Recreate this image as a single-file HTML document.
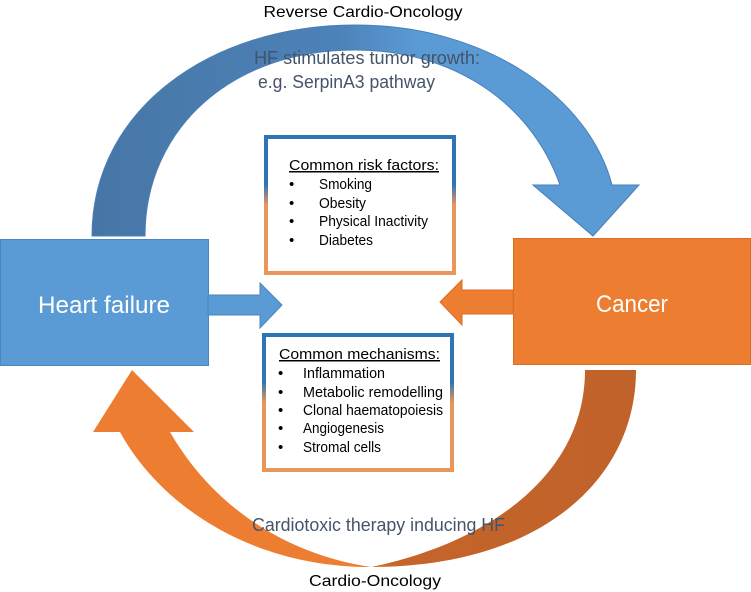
<!DOCTYPE html>
<html><head><meta charset="utf-8"><style>
html,body{margin:0;padding:0;background:#fff;}
svg{display:block;font-family:"Liberation Sans",sans-serif;}
</style></head><body>
<svg width="751" height="592" viewBox="0 0 751 592" xmlns="http://www.w3.org/2000/svg">
<defs>
<linearGradient id="gb" x1="0" y1="0" x2="1" y2="0">
<stop offset="0" stop-color="#4676a6"/><stop offset="0.45" stop-color="#4d82b8"/><stop offset="0.6" stop-color="#5b9bd5"/><stop offset="1" stop-color="#5b9bd5"/></linearGradient>
<linearGradient id="go" x1="0" y1="0" x2="1" y2="0">
<stop offset="0" stop-color="#ed7d31"/><stop offset="0.5" stop-color="#ed7d31"/><stop offset="0.55" stop-color="#c4652a"/><stop offset="1" stop-color="#c0622a"/></linearGradient>
<linearGradient id="gbox" x1="0" y1="0" x2="0" y2="1">
<stop offset="0" stop-color="#2e75b6"/><stop offset="0.35" stop-color="#2e75b6"/><stop offset="0.5" stop-color="#e8965a"/><stop offset="1" stop-color="#e8965a"/></linearGradient>
</defs>
<!-- top arc -->
<path d="M92,236 C92,110 210,25 355,25 C490,25 590,100 612,185 L639,185 L593,236 L533,185 L560,185 C530,100 450,50 355,50 C230,50 145,130 145,236 Z" fill="url(#gb)" stroke="#4a7fb5" stroke-width="1"/>
<!-- bottom arc -->
<path d="M585,370 L636,370 C636,480 540,567 371,567 C250,567 160,505 120,432 L93,432 L132,370 L194,432 L170,432 C215,510 290,555 371,567 C480,545 585,480 585,370 Z" fill="url(#go)"/>
<!-- boxes -->
<rect x="0.5" y="239.5" width="208" height="126" fill="#5b9bd5" stroke="#4a86c0"/>
<text x="104" y="313" text-anchor="middle" fill="#fff" font-size="24" textLength="132" lengthAdjust="spacingAndGlyphs">Heart failure</text>
<rect x="513.5" y="238.5" width="237" height="126" fill="#ed7d31" stroke="#d96e25"/>
<text x="632" y="312" text-anchor="middle" fill="#fff" font-size="24" textLength="72" lengthAdjust="spacingAndGlyphs">Cancer</text>
<!-- small arrows -->
<path d="M208,295 L260,295 L260,283 L282,305 L260,328 L260,315 L208,315 Z" fill="#5b9bd5" stroke="#4a86c0"/>
<path d="M513,290 L462,290 L462,280 L440,302 L462,325 L462,314 L513,314 Z" fill="#ed7d31" stroke="#d96e25"/>
<!-- risk box -->
<rect x="266" y="137" width="188" height="136" fill="#fff" stroke="url(#gbox)" stroke-width="4"/>
<g font-size="15" fill="#000">
<text x="289" y="170" text-decoration="underline" textLength="150" lengthAdjust="spacingAndGlyphs">Common risk factors:</text>
<text x="289" y="189">•</text><text x="319" y="189" textLength="53" lengthAdjust="spacingAndGlyphs">Smoking</text>
<text x="289" y="208">•</text><text x="319" y="208" textLength="47" lengthAdjust="spacingAndGlyphs">Obesity</text>
<text x="289" y="226">•</text><text x="319" y="226" textLength="109" lengthAdjust="spacingAndGlyphs">Physical Inactivity</text>
<text x="289" y="245">•</text><text x="319" y="245" textLength="54" lengthAdjust="spacingAndGlyphs">Diabetes</text>
</g>
<!-- mechanisms box -->
<rect x="264" y="335" width="188" height="135" fill="#fff" stroke="url(#gbox)" stroke-width="4"/>
<g font-size="15" fill="#000">
<text x="279" y="359" text-decoration="underline" textLength="161" lengthAdjust="spacingAndGlyphs">Common mechanisms:</text>
<text x="278" y="378">•</text><text x="303" y="378" textLength="82" lengthAdjust="spacingAndGlyphs">Inflammation</text>
<text x="278" y="397">•</text><text x="303" y="397" textLength="140" lengthAdjust="spacingAndGlyphs">Metabolic remodelling</text>
<text x="278" y="415">•</text><text x="303" y="415" textLength="140" lengthAdjust="spacingAndGlyphs">Clonal haematopoiesis</text>
<text x="278" y="433">•</text><text x="303" y="433" textLength="81" lengthAdjust="spacingAndGlyphs">Angiogenesis</text>
<text x="278" y="452">•</text><text x="303" y="452" textLength="78" lengthAdjust="spacingAndGlyphs">Stromal cells</text>
</g>
<!-- labels -->
<text x="363" y="17" text-anchor="middle" font-size="16" fill="#000" textLength="199" lengthAdjust="spacingAndGlyphs">Reverse Cardio-Oncology</text>
<text x="254" y="64" font-size="18" fill="#44546a" textLength="226" lengthAdjust="spacingAndGlyphs">HF stimulates tumor growth:</text>
<text x="258" y="88" font-size="18" fill="#44546a" textLength="177" lengthAdjust="spacingAndGlyphs">e.g. SerpinA3 pathway</text>
<text x="252" y="531" font-size="18" fill="#44546a" textLength="253" lengthAdjust="spacingAndGlyphs">Cardiotoxic therapy inducing HF</text>
<text x="375" y="586" text-anchor="middle" font-size="16" fill="#000" textLength="132" lengthAdjust="spacingAndGlyphs">Cardio-Oncology</text>
</svg>
</body></html>
